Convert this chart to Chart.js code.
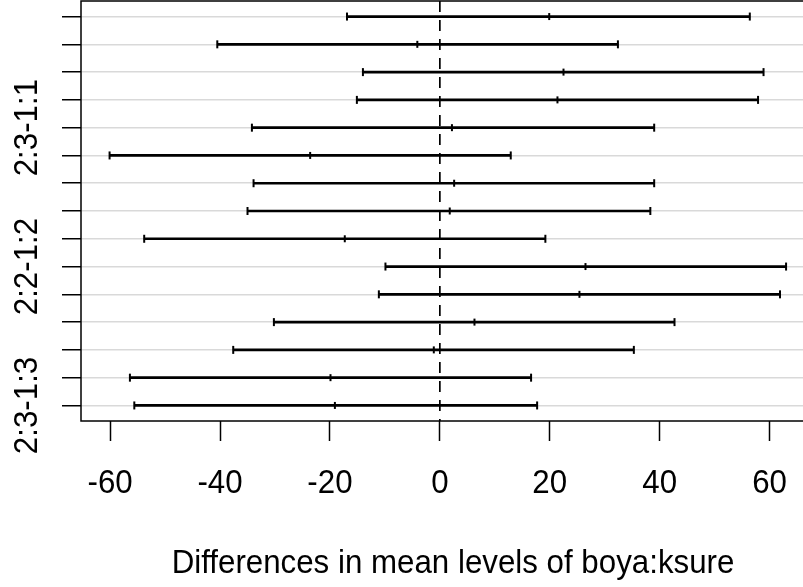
<!DOCTYPE html>
<html>
<head>
<meta charset="utf-8">
<script src="https://cdn.jsdelivr.net/npm/chart.js@4"></script>
<style>
  html, body { margin: 0; padding: 0; background: #fff; overflow: hidden; }
</style>
</head>
<body>
<canvas id="tukeyChart" width="813" height="587"></canvas>
<script>
// Tukey HSD comparisons, top to bottom
const comparisons = ['2:1-1:1', '1:2-1:1', '2:2-1:1', '1:3-1:1', '2:3-1:1',
                     '1:2-2:1', '2:2-2:1', '1:3-2:1', '2:3-2:1', '2:2-1:2',
                     '1:3-1:2', '2:3-1:2', '1:3-2:2', '2:3-2:2', '2:3-1:3'];
const diffs = [19.9, -4.1, 22.5, 21.4, 2.2, -23.6, 2.6, 1.8, -17.3, 26.5, 25.4, 6.3, -1.1, -19.9, -19.1];
const lowers = [-16.9, -40.5, -14.0, -15.1, -34.2, -60.1, -33.9, -35.0, -53.8, -9.9, -11.1, -30.2, -37.6, -56.4, -55.6];
const uppers = [56.4, 32.4, 58.9, 57.9, 39.0, 12.9, 39.0, 38.3, 19.2, 63.0, 61.9, 42.7, 35.3, 16.6, 17.7];
const xTicks = [-60, -40, -20, 0, 20, 40, 60];
// R only prints the labels that do not overlap
const shownLabels = ['2:3-1:1', '2:2-1:2', '2:3-1:3'];
const xTitle = 'Differences in mean levels of boya:ksure';

const rowNums = comparisons.map((c, i) => i + 1);
const textFont = '34px "Liberation Sans", Arial, sans-serif';
const squeeze = 0.92;

// axis text and box, drawn the way R lays them out
const rAxisText = {
    id: 'rAxisText',
    afterDraw(chart) {
        const ctx = chart.ctx;
        const area = chart.chartArea;
        const xs = chart.scales.x;
        const ys = chart.scales.y;
        ctx.save();
        ctx.strokeStyle = '#000';
        ctx.lineWidth = 1.5;
        ctx.strokeRect(area.left, area.top, area.right - area.left, area.bottom - area.top);

        ctx.fillStyle = '#000';
        ctx.font = textFont;
        ctx.textAlign = 'center';
        ctx.textBaseline = 'alphabetic';
        xTicks.forEach(v => {
            ctx.save();
            ctx.translate(xs.getPixelForValue(v), area.bottom + 71.5);
            ctx.scale(squeeze, 1);
            ctx.fillText(String(v), 0, 0);
            ctx.restore();
        });

        ctx.save();
        ctx.translate((area.left + area.right) / 2 + 6, area.bottom + 152);
        ctx.scale(squeeze, 1);
        ctx.fillText(xTitle, 0, 0);
        ctx.restore();

        comparisons.forEach((c, i) => {
            if (!shownLabels.includes(c)) return;
            ctx.save();
            ctx.translate(37, ys.getPixelForValue(i + 1));
            ctx.rotate(-Math.PI / 2);
            ctx.scale(squeeze, 1);
            ctx.fillText(c, 0, 0);
            ctx.restore();
        });
        ctx.restore();
    }
};

const ctx = document.getElementById('tukeyChart').getContext('2d');
new Chart(ctx, {
    type: 'bar',
    data: {
        datasets: [{
            type: 'bar',
            indexAxis: 'y',
            data: rowNums.map((r, i) => ({ y: r, x: [lowers[i], uppers[i]] })),
            backgroundColor: '#000',
            borderWidth: 0,
            barThickness: 2,
            grouped: false,
            order: 2
        }, {
            type: 'scatter',
            data: rowNums.flatMap((r, i) => [{ x: lowers[i], y: r }, { x: uppers[i], y: r }]),
            pointStyle: 'line',
            rotation: 90,
            radius: 4,
            borderWidth: 2,
            borderColor: '#000',
            order: 1
        }, {
            type: 'scatter',
            data: rowNums.map((r, i) => ({ x: diffs[i], y: r })),
            pointStyle: 'line',
            rotation: 90,
            radius: 3.5,
            borderWidth: 2,
            borderColor: '#000',
            order: 1
        }, {
            type: 'line',
            data: [{ x: 0, y: 0.44 }, { x: 0, y: 15.56 }],
            borderColor: '#000',
            borderWidth: 1.7,
            borderDash: [11, 8],
            pointRadius: 0,
            order: 0
        }]
    },
    options: {
        responsive: false,
        animation: false,
        events: [],
        layout: { autoPadding: false, padding: { top: 1, left: 0, right: 0, bottom: 0 } },
        plugins: {
            legend: { display: false },
            tooltip: { enabled: false }
        },
        scales: {
            x: {
                type: 'linear',
                offset: false,
                min: -65.3,
                max: 67.9,
                afterBuildTicks: s => { s.ticks = xTicks.map(v => ({ value: v })); },
                afterFit: s => { s.height = 166; },
                ticks: { display: false },
                border: { display: false },
                grid: {
                    offset: false,
                    drawOnChartArea: false,
                    tickLength: 20,
                    tickColor: '#000',
                    tickWidth: 1.5
                }
            },
            y: {
                type: 'linear',
                offset: false,
                reverse: true,
                min: 0.44,
                max: 15.56,
                afterBuildTicks: s => { s.ticks = rowNums.map(v => ({ value: v })); },
                afterFit: s => { s.width = 81; },
                ticks: { display: false },
                border: { display: false },
                grid: {
                    offset: false,
                    color: '#d9d9d9',
                    lineWidth: 1.5,
                    tickLength: 19,
                    tickColor: '#000',
                    tickWidth: 1.5
                }
            }
        }
    },
    plugins: [rAxisText]
});
</script>
</body>
</html>
